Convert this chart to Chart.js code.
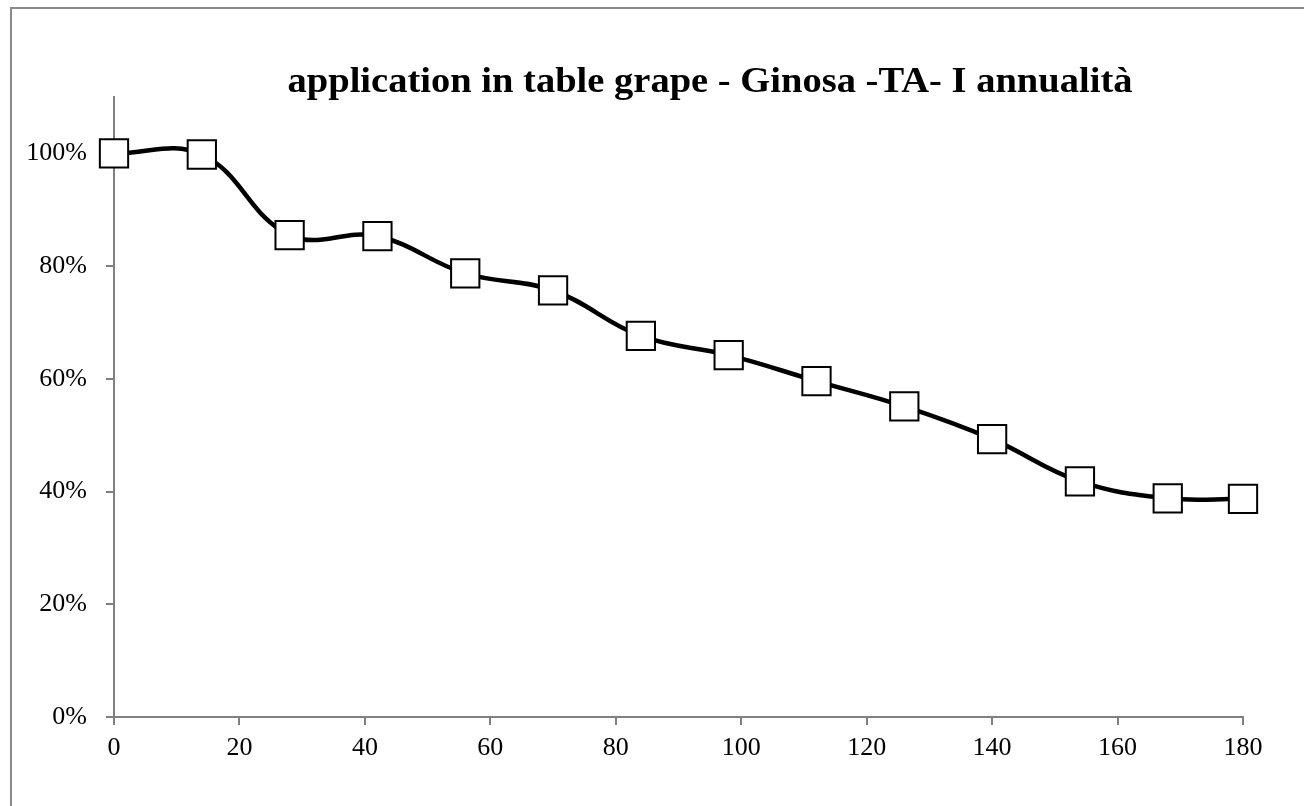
<!DOCTYPE html>
<html>
<head>
<meta charset="utf-8">
<script src="https://cdn.jsdelivr.net/npm/chart.js@4"></script>
<style>
  html, body { margin: 0; padding: 0; background: #fff; overflow: hidden; }
  #frame { position: absolute; left: 10px; top: 7px; width: 1400px; height: 900px;
           border-left: 2px solid #8a8a8a; border-top: 2px solid #8a8a8a; }
  #wrap { position: absolute; left: 0; top: 0; width: 1304px; height: 806px; }
</style>
</head>
<body>
<div id="frame"></div>
<div id="wrap"><canvas id="chartGinosa"></canvas></div>
<script>
// giorni e percentuale
const days = [0, 14, 28, 42, 56, 70, 84, 98, 112, 126, 140, 154, 168, 180];
const values = [1.000, 0.998, 0.855, 0.853, 0.787, 0.757, 0.676, 0.642, 0.596, 0.551, 0.493, 0.418, 0.388, 0.387];
const yTicks = [0, 0.2, 0.4, 0.6, 0.8, 1.0];
const xTicks = [0, 20, 40, 60, 80, 100, 120, 140, 160, 180];
const titleText = 'application in table grape - Ginosa -TA- I annualità';

const serif = '"Liberation Serif", "Times New Roman", serif';

// titre dessiné à la main pour le placer comme dans l'original
const titlePlugin = {
  id: 'customTitle',
  afterDraw(chart) {
    const ctx = chart.ctx;
    ctx.save();
    ctx.font = 'bold 35px ' + serif;
    ctx.fillStyle = '#000';
    ctx.textAlign = 'center';
    ctx.textBaseline = 'alphabetic';
    const w = ctx.measureText(titleText).width;
    ctx.translate(710, 92);
    ctx.scale(845 / w, 1);
    ctx.fillText(titleText, 0, 0);
    ctx.restore();
  }
};

document.addEventListener('DOMContentLoaded', function () {
  new Chart(document.getElementById('chartGinosa'), {
    type: 'line',
    data: {
      datasets: [{
        data: days.map((d, i) => ({ x: d, y: values[i] })),
        borderColor: '#000',
        borderWidth: 4.5,
        tension: 0.4,
        pointStyle: 'rect',
        pointRadius: 20,
        pointHoverRadius: 20,
        pointBackgroundColor: '#fff',
        pointBorderColor: '#000',
        pointBorderWidth: 2,
        clip: false
      }]
    },
    options: {
      responsive: true,
      maintainAspectRatio: false,
      animation: false,
      layout: { padding: { left: 0, top: 97, right: 61, bottom: 0 } },
      plugins: {
        legend: { display: false },
        title: { display: false },
        tooltip: { enabled: false }
      },
      scales: {
        x: {
          type: 'linear',
          min: 0,
          max: 180,
          afterBuildTicks: s => { s.ticks = xTicks.map(v => ({ value: v })); },
          afterFit: s => { s.height = 89; },
          grid: { drawOnChartArea: false, drawTicks: true, tickLength: 8, color: '#808080', lineWidth: 2 },
          border: { color: '#808080', width: 2 },
          ticks: { color: '#000', font: { family: serif, size: 26 }, padding: 8, maxRotation: 0 }
        },
        y: {
          min: 0,
          max: 1.1,
          afterBuildTicks: s => { s.ticks = yTicks.map(v => ({ value: v })); },
          afterFit: s => { s.width = 114; },
          grid: { drawOnChartArea: false, drawTicks: true, tickLength: 8, color: '#808080', lineWidth: 2 },
          border: { color: '#808080', width: 2 },
          ticks: {
            color: '#000',
            font: { family: serif, size: 26 },
            padding: 19,
            callback: v => Math.round(v * 100) + '%'
          }
        }
      }
    },
    plugins: [titlePlugin]
  });
});
</script>
</body>
</html>
